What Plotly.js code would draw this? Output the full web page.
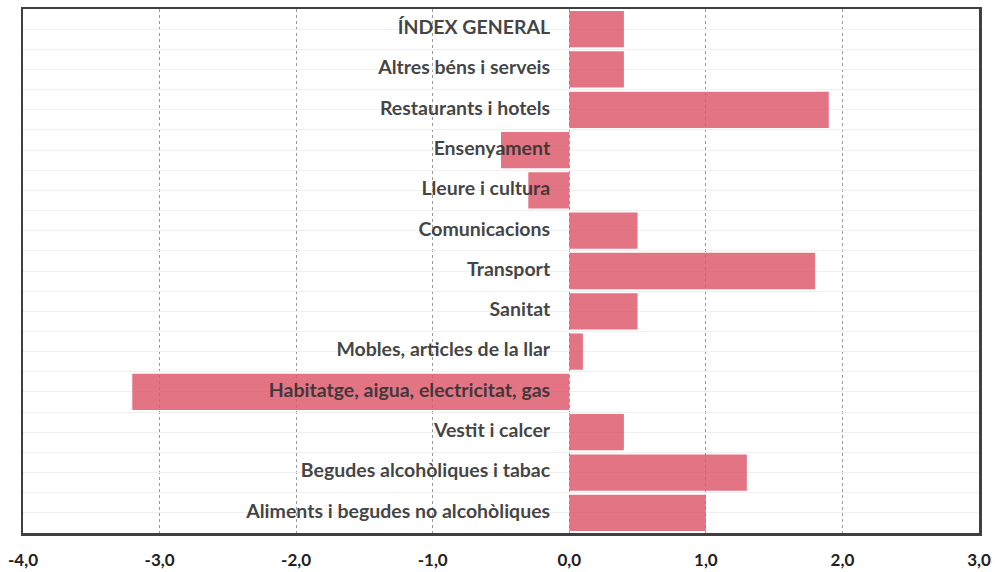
<!DOCTYPE html>
<html>
<head>
<meta charset="utf-8">
<script src="https://cdn.plot.ly/plotly-3.0.1.min.js"></script>
<style>html,body{margin:0;padding:0;background:#fff;}#chart{width:995px;height:572px;}</style>
</head>
<body>
<div id="chart"></div>
<script>
// Categories from bottom to top
const categories = [
  "Aliments i begudes no alcohòliques",
  "Begudes alcohòliques i tabac",
  "Vestit i calcer",
  "Habitatge, aigua, electricitat, gas",
  "Mobles, articles de la llar",
  "Sanitat",
  "Transport",
  "Comunicacions",
  "Lleure i cultura",
  "Ensenyament",
  "Restaurants i hotels",
  "Altres béns i serveis",
  "ÍNDEX GENERAL"
];
const values = [1.0, 1.3, 0.4, -3.2, 0.1, 0.5, 1.8, 0.5, -0.3, -0.5, 1.9, 0.4, 0.4];
const tickValues = [-4, -3, -2, -1, 0, 1, 2, 3];
const tickLabels = ["-4,0", "-3,0", "-2,0", "-1,0", "0,0", "1,0", "2,0", "3,0"];

const idx = categories.map((c, i) => i);

const labelTrace = {
  type: 'scatter',
  mode: 'text',
  x: idx.map(() => -0.14),
  y: idx,
  text: categories,
  textposition: 'middle left',
  textfont: {family: 'Lato, "Open Sans", sans-serif', size: 19.5, color: 'rgba(50,50,50,0.92)', weight: 'bold'},
  hoverinfo: 'skip',
  showlegend: false,
  cliponaxis: false
};

const barTrace = {
  type: 'bar',
  orientation: 'h',
  x: values,
  y: idx,
  width: 0.9,
  marker: {color: 'rgba(220,85,105,0.82)', line: {width: 0}},
  hoverinfo: 'x',
  showlegend: false
};

const halfTicks = [];
for (let v = -0.5; v <= 12.5; v += 0.5) halfTicks.push(v);

const layout = {
  width: 995,
  height: 572,
  margin: {l: 23, r: 16, t: 9, b: 39},
  paper_bgcolor: '#fff',
  plot_bgcolor: '#fff',
  showlegend: false,
  xaxis: {
    range: [-4, 3],
    tickvals: tickValues,
    ticktext: tickLabels,
    showgrid: true,
    gridcolor: '#9a9a9a',
    griddash: 'dot',
    gridwidth: 1,
    zeroline: false,
    showline: true,
    linecolor: '#404040',
    linewidth: 2.5,
    mirror: true,
    ticks: 'outside',
    ticklen: 10,
    tickcolor: 'rgba(0,0,0,0)',
    tickfont: {family: 'Lato, "Open Sans", sans-serif', size: 17, color: '#222', weight: 'bold'},
    fixedrange: true
  },
  yaxis: {
    range: [-0.5, 12.5],
    tickvals: halfTicks,
    showticklabels: false,
    showgrid: true,
    gridcolor: '#efefef',
    gridwidth: 1,
    zeroline: false,
    showline: true,
    linecolor: '#404040',
    linewidth: 2.5,
    mirror: true,
    ticks: '',
    fixedrange: true
  }
};

Plotly.newPlot('chart', [labelTrace, barTrace], layout, {displayModeBar: false, staticPlot: true});
</script>
</body>
</html>
